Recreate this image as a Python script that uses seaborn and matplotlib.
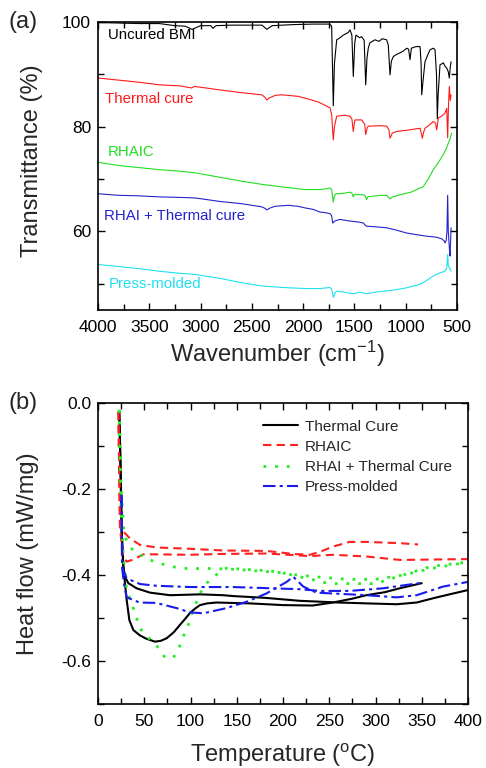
import matplotlib
matplotlib.use("Agg")
import matplotlib.pyplot as plt
import seaborn as sns
import pandas as pd

# ---------------- FTIR data (panel a) ----------------
bmi_wn = [4000, 3800, 3600, 3400, 3250, 3150, 3083, 3000, 2900, 2880, 2850, 2700, 2400, 2355, 2300, 2100, 1900,
          1740, 1722, 1706, 1695, 1673, 1640, 1608, 1560, 1543, 1525, 1511, 1497, 1485, 1450, 1430, 1405, 1390,
          1378, 1365, 1350, 1300, 1260, 1230, 1186, 1170, 1153, 1140, 1121, 1090, 1056, 1020, 990, 972, 958,
          945, 900, 860, 850, 844, 830, 812, 790, 763, 730, 714, 700, 692, 684, 666, 650, 633, 615, 600, 585,
          575, 565, 558]
bmi_t = [99.9, 99.8, 99.7, 99.7, 99.3, 99.2, 98.6, 99.3, 99.3, 98.8, 99.3, 99.4, 99.4, 98.6, 99.3, 99.5, 99.6,
         99.6, 99.2, 84.0, 92.0, 96.6, 97.0, 97.5, 98.0, 98.5, 97.5, 89.6, 96.0, 97.5, 97.0, 97.2, 96.5, 88.0,
         93.0, 95.0, 96.0, 96.6, 96.3, 96.8, 96.6, 95.6, 89.9, 92.5, 93.4, 93.8, 94.1, 94.5, 95.0, 94.8, 92.8,
         95.0, 95.3, 95.3, 92.0, 86.1, 89.0, 92.4, 93.5, 94.7, 95.0, 94.7, 90.0, 81.5, 86.0, 91.8, 92.0, 92.2,
         91.5, 91.2, 90.5, 89.3, 91.5, 92.4]

tc_wn = [4000, 3800, 3600, 3400, 3200, 3087, 3060, 2800, 2600, 2404, 2370, 2355, 2330, 2270, 2209, 2100, 2047,
         1917, 1850, 1787, 1738, 1722, 1706, 1695, 1673, 1600, 1543, 1525, 1511, 1500, 1494, 1430, 1400, 1390,
         1375, 1365, 1250, 1186, 1165, 1153, 1130, 1088, 1000, 958, 900, 860, 845, 838, 825, 812, 760, 731,
         710, 698, 690, 682, 650, 617, 600, 591, 583, 575, 566, 558]
tc_t = [89.3, 88.9, 88.5, 88.0, 87.8, 87.4, 87.7, 87.0, 86.5, 86.1, 85.6, 85.1, 85.5, 86.0, 86.1, 85.9, 85.8,
        85.1, 84.7, 84.1, 83.6, 82.3, 77.5, 80.0, 82.0, 82.2, 82.0, 81.5, 79.1, 80.8, 81.3, 81.3, 80.5, 78.5,
        79.8, 80.1, 80.2, 80.1, 79.5, 77.8, 78.8, 79.1, 79.3, 79.4, 79.6, 79.7, 78.5, 77.8, 79.0, 79.7, 80.5,
        81.0, 80.7, 79.4, 80.5, 81.7, 82.0, 82.6, 83.5, 77.9, 84.0, 87.7, 85.0, 86.1]

rhaic_wn = [4000, 3800, 3600, 3400, 3200, 3054, 2800, 2600, 2404, 2200, 1982, 1850, 1787, 1738, 1722, 1706,
            1695, 1680, 1600, 1543, 1525, 1511, 1500, 1413, 1395, 1381, 1370, 1250, 1186, 1165, 1153, 1130,
            1056, 950, 860, 840, 828, 780, 731, 680, 633, 600, 584, 565, 552]
rhaic_t = [73.2, 72.6, 72.2, 71.8, 71.5, 71.2, 70.3, 69.6, 69.0, 68.5, 68.0, 68.0, 68.1, 68.3, 68.0, 65.6,
           66.8, 67.2, 67.3, 67.5, 67.3, 66.6, 67.1, 67.0, 66.8, 66.1, 66.6, 66.9, 66.9, 66.5, 66.2, 66.6,
           67.0, 67.5, 68.3, 68.4, 68.6, 70.0, 71.8, 73.2, 74.7, 76.0, 76.9, 77.8, 78.8]

rhai_wn = [4000, 3800, 3600, 3400, 3200, 3054, 2800, 2600, 2404, 2370, 2355, 2320, 2274, 2144, 2050, 1982, 1900,
           1836, 1787, 1738, 1722, 1712, 1690, 1641, 1550, 1460, 1413, 1390, 1381, 1300, 1186, 1100, 991, 900,
           796, 700, 650, 625, 617, 605, 598, 591, 585, 575, 568, 562, 558]
rhai_t = [67.2, 66.9, 66.8, 66.6, 66.5, 66.4, 65.7, 65.3, 64.7, 64.4, 64.1, 64.5, 64.8, 65.0, 64.8, 64.5, 64.2,
          63.7, 63.6, 63.4, 63.0, 61.6, 62.0, 62.3, 62.0, 61.8, 61.6, 61.1, 61.0, 60.9, 60.7, 60.3, 59.7, 59.4,
          59.1, 58.9, 58.6, 58.2, 57.8, 58.3, 60.0, 66.9, 60.0, 57.0, 55.3, 58.5, 60.7]

pm_wn = [4000, 3850, 3600, 3400, 3200, 3054, 2800, 2600, 2404, 2200, 1982, 1836, 1738, 1722, 1706, 1690, 1673,
         1600, 1511, 1450, 1381, 1300, 1121, 1000, 860, 800, 731, 680, 617, 600, 591, 585, 575, 565, 558]
pm_t = [53.7, 53.4, 52.9, 52.4, 52.0, 51.8, 51.0, 50.2, 49.6, 49.3, 49.1, 49.1, 49.3, 49.0, 47.4, 48.3, 48.6,
        48.4, 48.1, 48.4, 48.1, 48.4, 48.8, 49.2, 49.9, 50.6, 51.5, 52.0, 52.4, 53.0, 55.6, 53.5, 53.1, 52.8,
        52.4]

ftir_labels = ["Uncured BMI", "Thermal cure", "RHAIC", "RHAI + Thermal cure", "Press-molded"]

# ---------------- DSC data (panel b) ----------------
tcA_T = [23, 24.5, 25.6, 27.4, 29.2, 31, 33.9, 38.2, 45, 52, 61.6, 68, 74.3, 82, 88.6, 95, 99.5, 105, 110.3,
         118, 128.3, 145, 164.3, 200, 232, 254, 275, 290, 310, 326, 350]
tcA_H = [-0.02, -0.15, -0.30, -0.38, -0.42, -0.458, -0.505, -0.528, -0.540, -0.548, -0.555, -0.553, -0.547,
         -0.533, -0.516, -0.500, -0.488, -0.478, -0.470, -0.466, -0.464, -0.465, -0.466, -0.470, -0.471, -0.464,
         -0.455, -0.447, -0.440, -0.431, -0.419]
tcB_T = [23, 25.6, 27.4, 29.2, 32.8, 41.8, 56.2, 77.8, 110.3, 135.5, 146, 180, 218, 260, 290.5, 323, 344.5,
         362.5, 380, 400]
tcB_H = [-0.02, -0.30, -0.381, -0.404, -0.419, -0.431, -0.441, -0.447, -0.445, -0.447, -0.449, -0.453, -0.460,
         -0.464, -0.466, -0.468, -0.464, -0.454, -0.445, -0.435]

rhA_T = [22, 23.8, 27.4, 34.6, 45.4, 63.4, 99.5, 135.5, 182, 211, 229, 240, 254, 272, 290.5, 326.5, 346]
rhA_H = [-0.02, -0.288, -0.299, -0.315, -0.330, -0.336, -0.339, -0.343, -0.344, -0.351, -0.353, -0.346, -0.334,
         -0.323, -0.323, -0.326, -0.329]
rhB_T = [22, 23.8, 25.5, 27.4, 31, 38.2, 49, 63.4, 99.5, 135.5, 182, 229, 254, 290.5, 326.5, 362.5, 400]
rhB_H = [-0.02, -0.288, -0.33, -0.357, -0.369, -0.364, -0.352, -0.352, -0.353, -0.351, -0.350, -0.356, -0.353,
         -0.357, -0.365, -0.364, -0.363]

rtA_T = [23, 25, 27.4, 31, 36.4, 45.4, 52.6, 59.8, 67, 72.4, 77, 81.4, 86.8, 92.2, 97.6, 103, 110.3, 117.5,
         131.9, 139, 160, 185, 199, 215, 240, 270, 300, 330, 360, 400]
rtA_H = [-0.016, -0.25, -0.36, -0.435, -0.466, -0.524, -0.543, -0.555, -0.574, -0.592, -0.594, -0.592, -0.574,
         -0.543, -0.516, -0.481, -0.443, -0.419, -0.392, -0.384, -0.387, -0.390, -0.395, -0.400, -0.405, -0.410,
         -0.410, -0.400, -0.385, -0.370]
rtB_T = [23, 25, 28, 32, 38, 49, 56, 67, 81, 96, 125, 150, 200, 250, 300, 330, 360, 400]
rtB_H = [-0.016, -0.20, -0.30, -0.328, -0.343, -0.357, -0.365, -0.373, -0.381, -0.385, -0.385, -0.387, -0.395,
         -0.420, -0.420, -0.400, -0.380, -0.370]

pmA_T = [25.6, 26, 31, 45.4, 63, 99.5, 146, 218, 240, 272, 308, 350]
pmA_H = [-0.214, -0.381, -0.408, -0.421, -0.425, -0.428, -0.428, -0.433, -0.437, -0.437, -0.431, -0.418]
pmB_T = [25.6, 26, 28, 31, 45, 63, 85, 99.5, 114, 139, 161, 182, 204, 211, 222, 236, 254, 290, 323, 344.5,
         373, 400]
pmB_H = [-0.214, -0.381, -0.420, -0.452, -0.464, -0.465, -0.477, -0.487, -0.489, -0.477, -0.462, -0.443,
         -0.416, -0.404, -0.427, -0.441, -0.443, -0.447, -0.452, -0.447, -0.427, -0.416]

dsc_labels = ["Thermal Cure", "RHAIC", "RHAI + Thermal Cure", "Press-molded"]

# ---------------- style ----------------
sns.set_style("ticks")
plt.rcParams["font.family"] = ["Liberation Sans", "DejaVu Sans"]
plt.rcParams["mathtext.fontset"] = "custom"
plt.rcParams["mathtext.rm"] = "Liberation Sans"
plt.rcParams["mathtext.it"] = "Liberation Sans:italic"
plt.rcParams["axes.linewidth"] = 1.0
plt.rcParams["axes.edgecolor"] = "black"

fig = plt.figure(figsize=(4.86, 7.68), dpi=100)
W, H = 486.0, 768.0
ax1 = fig.add_axes([98 / W, 1 - 310 / H, 359 / W, 288 / H])
ax2 = fig.add_axes([98 / W, 1 - 704 / H, 370 / W, 301 / H])

# ---- panel a ----
ftir = [(bmi_wn, bmi_t, "black"), (tc_wn, tc_t, "#ff1a1a"), (rhaic_wn, rhaic_t, "#22dd22"),
        (rhai_wn, rhai_t, "#2323cc"), (pm_wn, pm_t, "#20e0f0")]
for wn, tt, c in ftir:
    sns.lineplot(x=wn, y=tt, ax=ax1, sort=False, estimator=None, color=c, lw=0.8)

ann_pos = [(3902, 97.5), (3932, 85.3), (3902, 75.2), (3941, 63.0), (3893, 49.9)]
for lab, (x, y), (_, _, c) in zip(ftir_labels, ann_pos, ftir):
    ax1.text(x, y, lab, color=c, fontsize=10.8, va="center", ha="left")

ax1.set_xlim(4000, 500)
ax1.set_ylim(45, 100)
ax1.set_xticks([4000, 3500, 3000, 2500, 2000, 1500, 1000, 500])
ax1.set_xticks(list(range(3750, 500, -500)), minor=True)
ax1.set_yticks([60, 80, 100])
ax1.set_yticks([50, 70, 90], minor=True)
ax1.set_xlabel("Wavenumber (cm$^{-1}$)", fontsize=17)
ax1.set_ylabel("Transmittance (%)", fontsize=17)
ax1.xaxis.set_label_coords(0.5, -0.10)
ax1.yaxis.set_label_coords(-0.153, 0.52)

# ---- panel b ----
dsc = [((tcA_T, tcA_H), (tcB_T, tcB_H), "black", "-", 1.5),
       ((rhA_T, rhA_H), (rhB_T, rhB_H), "#ff2020", (0, (4, 2.5)), 1.5),
       ((rtA_T, rtA_H), (rtB_T, rtB_H), "#22ee22", (0, (1, 3.2)), 2.0),
       ((pmA_T, pmA_H), (pmB_T, pmB_H), "#1a1aee", (0, (6, 2, 1.5, 2)), 1.5)]
for (a, b, c, ls, lw), lab in zip(dsc, dsc_labels):
    sns.lineplot(x=a[0], y=a[1], ax=ax2, sort=False, estimator=None, color=c, lw=lw, linestyle=ls, label=lab)
    sns.lineplot(x=b[0], y=b[1], ax=ax2, sort=False, estimator=None, color=c, lw=lw, linestyle=ls)

ax2.set_xlim(0, 400)
ax2.set_ylim(-0.7, 0.0)
ax2.set_xticks(list(range(0, 401, 50)))
ax2.set_xticks(list(range(25, 400, 50)), minor=True)
ax2.set_yticks([-0.6, -0.4, -0.2, 0.0])
ax2.set_yticks([-0.7, -0.5, -0.3, -0.1], minor=True)
ax2.set_yticklabels(["-0.6", "-0.4", "-0.2", "0.0"])
ax2.set_xlabel("Temperature ($^{\\mathrm{o}}$C)", fontsize=17)
ax2.set_ylabel("Heat flow (mW/mg)", fontsize=17)
ax2.xaxis.set_label_coords(0.5, -0.125)
ax2.yaxis.set_label_coords(-0.16, 0.5)

leg = ax2.legend(loc="upper left", bbox_to_anchor=(0.43, 0.965), frameon=False, fontsize=11,
                 handlelength=2.3, handletextpad=0.45, labelspacing=0.4, borderaxespad=0)

for ax in (ax1, ax2):
    ax.tick_params(which="both", direction="in", top=True, right=True, width=1.0, colors="black")
    ax.tick_params(which="major", length=5, labelsize=12.5)
    ax.tick_params(which="minor", length=4)
    ax.tick_params(axis="x", which="major", pad=7)
    ax.tick_params(axis="y", which="major", pad=5)
    for s in ax.spines.values():
        s.set_visible(True)
        s.set_linewidth(1.2)

fig.text(8 / W, 1 - 22 / H, "(a)", fontsize=17, va="center", ha="left")
fig.text(8 / W, 1 - 403 / H, "(b)", fontsize=17, va="center", ha="left")

fig.savefig("out.png", dpi=100, facecolor="white")
